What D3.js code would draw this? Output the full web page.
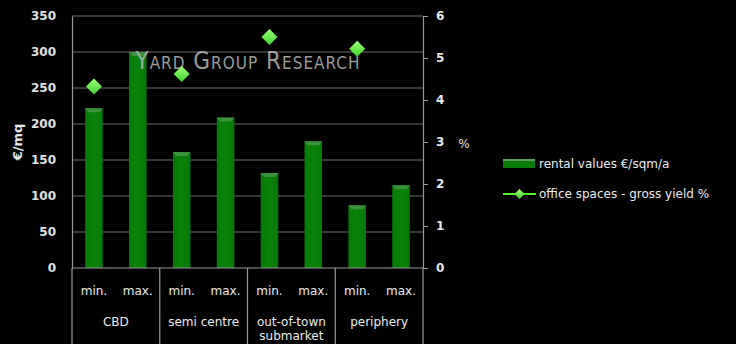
<!DOCTYPE html>
<html><head><meta charset="utf-8">
<script src="https://cdn.jsdelivr.net/npm/d3@7"></script>
<style>body{margin:0;background:#000;}svg{display:block;}</style>
</head><body>
<script>
const groups = ["CBD", "semi centre", "out-of-town submarket", "periphery"];
const levels = ["min.", "max."];
const rentalValues = [222, 300, 161, 209, 132, 176, 87, 115];
const grossYield = [4.32, null, 4.62, null, 5.5, null, 5.22, null];
const leftTicks = [0, 50, 100, 150, 200, 250, 300, 350];
const rightTicks = [0, 1, 2, 3, 4, 5, 6];

const W = 736, H = 344;
const L = 72, R = 423, T = 16, B = 268;
const svg = d3.select("body").append("svg").attr("width", W).attr("height", H).style("background", "#000");
const defs = svg.append("defs");
const bg = defs.append("linearGradient").attr("id", "barg").attr("x1", 0).attr("x2", 1).attr("y1", 0).attr("y2", 0);
bg.append("stop").attr("offset", "0%").attr("stop-color", "#067a06");
bg.append("stop").attr("offset", "50%").attr("stop-color", "#0a820a");
bg.append("stop").attr("offset", "100%").attr("stop-color", "#067806");
const dg = defs.append("linearGradient").attr("id", "diag").attr("x1", 0).attr("x2", 0).attr("y1", 0).attr("y2", 1);
dg.append("stop").attr("offset", "0%").attr("stop-color", "#9dff7a");
dg.append("stop").attr("offset", "100%").attr("stop-color", "#3fd62a");

const keys = d3.range(rentalValues.length);
const x = d3.scaleBand().domain(keys).range([L, R]).paddingInner(0.6).paddingOuter(0.3);
const xc = d3.scaleBand().domain(keys).range([L, R]);
const yL = d3.scaleLinear().domain([0, 350]).range([B, T]);
const yR = d3.scaleLinear().domain([0, 6]).range([B, T]);

// gridlines
svg.append("g").selectAll("line").data(leftTicks.slice(1)).join("line")
  .attr("x1", L).attr("x2", R).attr("y1", d => yL(d)).attr("y2", d => yL(d))
  .attr("stroke", "#6e6e6e").attr("stroke-width", 1.2);

// left axis
const la = svg.append("g").attr("transform", `translate(${L},0)`).call(d3.axisLeft(yL).tickValues(leftTicks).tickSize(0).tickPadding(16));
la.select(".domain").attr("stroke", "#9a9a9a").attr("stroke-width", 1.2);
la.selectAll("text").attr("fill", "#e0e0e0").style("font", "bold 12px 'DejaVu Sans'");

// right axis
const ra = svg.append("g").attr("transform", `translate(${R},0)`).call(d3.axisRight(yR).tickValues(rightTicks).tickFormat(d3.format("d")).tickSize(5).tickPadding(8));
ra.select(".domain").attr("stroke", "#9a9a9a").attr("stroke-width", 1.2);
ra.selectAll(".tick line").attr("stroke", "#9a9a9a");
ra.selectAll("text").attr("fill", "#e8e8e8").style("font", "bold 12px 'DejaVu Sans'");

// bars
const bars = svg.append("g").selectAll("g").data(keys).join("g");
bars.append("rect").attr("x", d => x(d)).attr("width", x.bandwidth())
  .attr("y", d => yL(rentalValues[d])).attr("height", d => B - yL(rentalValues[d]))
  .attr("fill", "url(#barg)");
bars.append("path").attr("d", d => {
  const x0 = x(d), x1 = x(d) + x.bandwidth(), y0 = yL(rentalValues[d]);
  return `M${x0},${y0}L${x1},${y0}L${x1 - 3},${y0 + 4}L${x0 + 3},${y0 + 4}Z`;
}).attr("fill", "#5fa05f").attr("fill-opacity", 0.6);

// watermark (on top of bars)
svg.append("text").attr("x", 248).attr("y", 69).attr("text-anchor", "middle")
  .attr("fill", "#b8b8b8").attr("fill-opacity", 0.85)
  .style("font", "24px 'DejaVu Sans Condensed'").style("font-variant", "small-caps").style("letter-spacing", "1px")
  .text("Yard Group Research");

// diamonds
const pts = keys.filter(k => grossYield[k] != null);
svg.append("g").selectAll("path").data(pts).join("path")
  .attr("transform", k => `translate(${xc(k) + xc.bandwidth() / 2},${yR(grossYield[k])})`)
  .attr("d", "M0,-8L8,0L0,8L-8,0Z").attr("fill", "url(#diag)");

// category table
const tbl = svg.append("g");
tbl.append("line").attr("x1", L).attr("x2", R).attr("y1", B).attr("y2", B).attr("stroke", "#9a9a9a").attr("stroke-width", 1.2);
const sepX = [0, 2, 4, 6, 8].map(i => i < 8 ? xc(i) : R);
tbl.selectAll("line.sep").data(sepX).join("line").attr("class", "sep")
  .attr("x1", d => d).attr("x2", d => d).attr("y1", B).attr("y2", H)
  .attr("stroke", "#9a9a9a").attr("stroke-width", 1.2);
tbl.selectAll("text.lv").data(keys).join("text").attr("class", "lv")
  .attr("x", k => xc(k) + xc.bandwidth() / 2).attr("y", 295).attr("text-anchor", "middle")
  .attr("fill", "#ececec").style("font", "12px 'DejaVu Sans'").text(k => levels[k % 2]);
groups.forEach((g, i) => {
  const cx = (xc(i * 2) + xc(i * 2 + 1) + xc.bandwidth()) / 2;
  const lines = g === "out-of-town submarket" ? ["out-of-town", "submarket"] : [g];
  lines.forEach((t, j) => tbl.append("text").attr("x", cx).attr("y", 326 + j * 14).attr("text-anchor", "middle")
    .attr("fill", "#ececec").style("font", "12px 'DejaVu Sans'").text(t));
});

// axis titles
svg.append("text").attr("transform", "translate(22,142) rotate(-90)").attr("text-anchor", "middle")
  .attr("fill", "#e8e8e8").style("font", "bold 13px 'DejaVu Sans'").text("€/mq");
svg.append("text").attr("x", 464).attr("y", 148).attr("text-anchor", "middle")
  .attr("fill", "#e8e8e8").style("font", "12px 'DejaVu Sans'").text("%");

// legend
const lg = svg.append("g");
lg.append("rect").attr("x", 503).attr("y", 159).attr("width", 32).attr("height", 9).attr("fill", "#0a7a0a");
lg.append("rect").attr("x", 503).attr("y", 159).attr("width", 32).attr("height", 2).attr("fill", "#5fa05f");
lg.append("text").attr("x", 539).attr("y", 168).attr("fill", "#ececec").style("font", "12px 'DejaVu Sans'").text("rental values €/sqm/a");
lg.append("line").attr("x1", 503).attr("x2", 536).attr("y1", 194).attr("y2", 194).attr("stroke", "#55ee33").attr("stroke-width", 2);
lg.append("path").attr("transform", "translate(519.5,194)").attr("d", "M0,-5L5,0L0,5L-5,0Z").attr("fill", "url(#diag)");
lg.append("text").attr("x", 539).attr("y", 198).attr("fill", "#ececec").style("font", "12px 'DejaVu Sans'").text("office spaces - gross yield %");
</script>
</body></html>
